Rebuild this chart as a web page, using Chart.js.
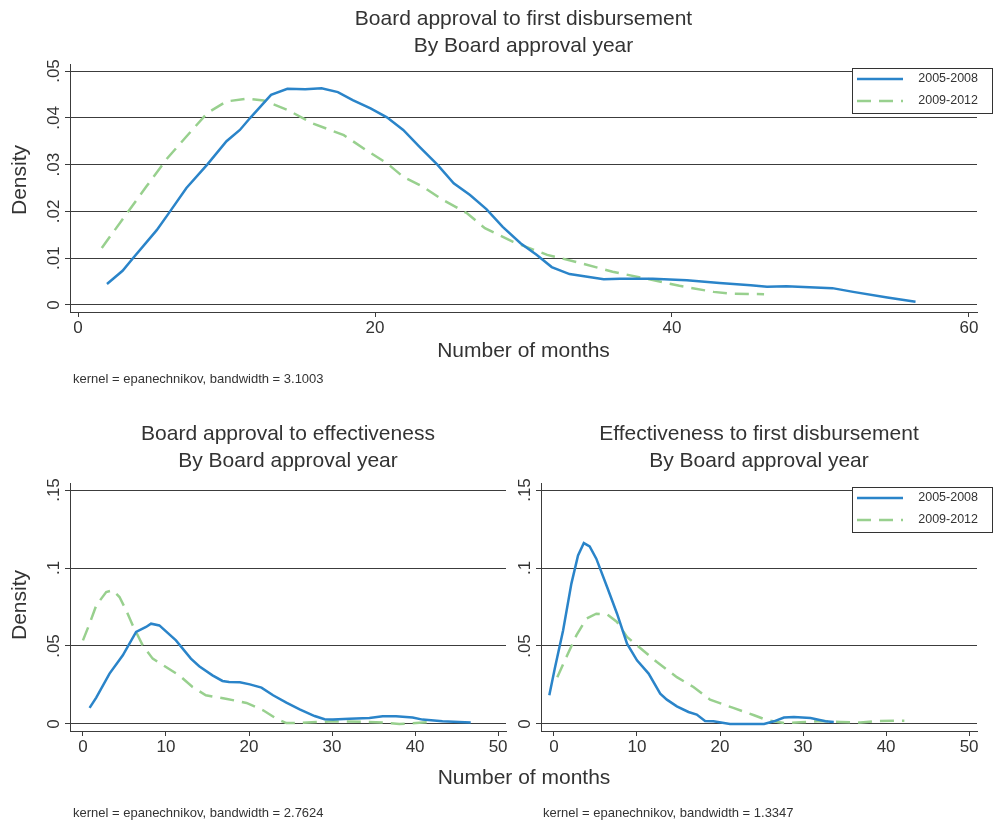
<!DOCTYPE html>
<html>
<head>
<meta charset="utf-8">
<script src="https://cdn.jsdelivr.net/npm/chart.js@4.4.1/dist/chart.umd.min.js"></script>
<style>
  body { margin: 0; background: #fff; width: 993px; height: 825px; position: relative; overflow: hidden; }
  canvas { position: absolute; }
  .xtitle { position: absolute; left: 324px; width: 400px; top: 766px; text-align: center;
            font: 21px/21px "Liberation Sans", Arial, sans-serif; color: #333; white-space: nowrap; }
</style>
</head>
<body>
<canvas id="topChart" width="993" height="395" style="left:0;top:0"></canvas>
<canvas id="leftChart" width="520" height="430" style="left:0;top:395px"></canvas>
<canvas id="rightChart" width="488" height="430" style="left:505px;top:395px"></canvas>
<div class="xtitle">Number of months</div>
<script>
// Series labels
const seriesLabels = ['2005-2008', '2009-2012'];

// Top panel: Board approval to first disbursement
const topX0508 = [1.95, 3.0, 3.7, 5.3, 6.2, 7.3, 8.7, 10.0, 10.9, 11.6, 13.0, 14.1, 15.3, 16.4, 17.5, 18.5, 19.7, 20.8, 21.9, 23.0, 24.2, 25.3, 26.4, 27.5, 28.6, 29.8, 30.9, 31.9, 33.1, 35.4, 36.5, 38.7, 41.0, 43.2, 45.3, 46.4, 47.7, 50.8, 52.2, 54.5, 56.4];
const topY0508 = [0.0045, 0.0073, 0.0100, 0.0160, 0.0200, 0.0250, 0.0300, 0.0350, 0.0374, 0.0400, 0.0449, 0.0462, 0.0461, 0.0463, 0.0455, 0.0438, 0.0420, 0.0401, 0.0374, 0.0338, 0.0300, 0.0260, 0.0235, 0.0205, 0.0167, 0.0132, 0.0107, 0.0081, 0.0066, 0.0055, 0.0056, 0.0056, 0.0053, 0.0047, 0.0042, 0.0039, 0.0040, 0.0036, 0.0028, 0.0016, 0.0007];
const topX0912 = [1.6, 3.3, 4.6, 6.0, 7.3, 8.7, 10.0, 11.4, 12.5, 14.1, 15.8, 17.9, 19.4, 20.8, 21.9, 23.2, 24.6, 26.2, 27.4, 29.3, 31.6, 33.8, 36.0, 38.3, 40.5, 42.8, 44.1, 46.2];
const topY0912 = [0.0122, 0.0196, 0.0253, 0.0313, 0.0360, 0.0410, 0.0435, 0.0441, 0.0437, 0.0417, 0.0388, 0.0363, 0.0331, 0.0303, 0.0274, 0.0253, 0.0224, 0.0196, 0.0164, 0.0135, 0.0107, 0.0090, 0.0071, 0.0056, 0.0041, 0.0028, 0.0024, 0.0023];

// Bottom left: Board approval to effectiveness
const leftX0508 = [0.8, 1.6, 3.2, 4.8, 6.4, 7.6, 8.2, 9.2, 11.2, 13.0, 14.0, 15.6, 16.8, 17.6, 18.9, 20.1, 21.5, 22.9, 24.5, 26.1, 27.9, 29.1, 30.1, 32.1, 34.5, 36.1, 37.7, 39.7, 40.9, 43.3, 45.3, 46.7];
const leftY0508 = [0.0103, 0.0169, 0.0323, 0.0440, 0.0590, 0.0622, 0.0643, 0.0632, 0.0536, 0.0419, 0.0370, 0.0312, 0.0276, 0.0269, 0.0267, 0.0254, 0.0233, 0.0184, 0.0137, 0.0094, 0.0051, 0.0030, 0.0028, 0.0034, 0.0038, 0.0049, 0.0049, 0.0041, 0.0028, 0.0017, 0.0013, 0.0009];
const leftX0912 = [0.0, 0.8, 1.6, 2.8, 3.6, 4.4, 5.2, 6.0, 7.2, 8.4, 10.0, 11.6, 13.2, 14.8, 17.2, 19.7, 21.7, 23.3, 24.5, 26.1, 28.1, 30.1, 34.1, 36.1, 38.1, 40.1, 42.1];
const leftY0912 = [0.0536, 0.0643, 0.0760, 0.0846, 0.0857, 0.0814, 0.0729, 0.0632, 0.0504, 0.0419, 0.0365, 0.0312, 0.0237, 0.0184, 0.0162, 0.0135, 0.0088, 0.0034, 0.0006, 0.0006, 0.0013, 0.0017, 0.0013, 0.0009, 0.0000, 0.0006, 0.0013];

// Bottom right: Effectiveness to first disbursement
const rightX0508 = [-0.56, 0.1, 1.1, 2.1, 2.9, 3.6, 4.3, 5.1, 6.4, 7.6, 8.8, 10.0, 11.4, 12.8, 13.6, 14.8, 16.2, 17.2, 18.2, 19.2, 21.2, 25.3, 26.5, 27.7, 28.9, 30.9, 32.7, 33.7];
const rightY0508 = [0.0184, 0.0355, 0.0600, 0.0900, 0.1080, 0.1160, 0.1139, 0.1060, 0.0878, 0.0707, 0.0515, 0.0408, 0.0323, 0.0194, 0.0156, 0.0113, 0.0077, 0.0060, 0.0019, 0.0017, 0.0000, 0.0000, 0.0017, 0.0041, 0.0045, 0.0038, 0.0017, 0.0013];
const rightX0912 = [0.4, 1.5, 2.7, 3.9, 5.1, 6.4, 7.6, 8.8, 10.0, 12.4, 14.8, 16.8, 18.8, 21.6, 24.1, 25.7, 27.7, 29.7, 32.1, 34.5, 36.9, 38.9, 42.2];
const rightY0912 = [0.0300, 0.0430, 0.0568, 0.0675, 0.0707, 0.0703, 0.0654, 0.0558, 0.0504, 0.0397, 0.0300, 0.0237, 0.0156, 0.0103, 0.0056, 0.0024, 0.0006, 0.0011, 0.0019, 0.0013, 0.0009, 0.0019, 0.0021];

// Ticks
const topXTicks = [0, 20, 40, 60];
const topYTicks = [0, 0.01, 0.02, 0.03, 0.04, 0.05];
const topYTickLabels = ['0', '.01', '.02', '.03', '.04', '.05'];
const bottomXTicks = [0, 10, 20, 30, 40, 50];
const bottomYTicks = [0, 0.05, 0.1, 0.15];
const bottomYTickLabels = ['0', '.05', '.1', '.15'];

const BLUE = '#2a84c9';
const GREEN = '#98d08e';
const TEXT = '#333';
const GRID = '#3c3c3c';
const FONT = '"Liberation Sans", Arial, sans-serif';

function toPoints(xs, ys) {
  return xs.map((x, i) => ({ x: x, y: ys[i] }));
}

// Draws titles, rotated y tick labels, y title, notes and legend box
const panelText = {
  id: 'panelText',
  afterDraw(chart, args, opts) {
    const ctx = chart.ctx;
    const area = chart.chartArea;
    const ys = chart.scales.y;
    const cx = (area.left + area.right) / 2;
    ctx.save();
    ctx.fillStyle = TEXT;

    ctx.font = '21px ' + FONT;
    ctx.textAlign = 'center';
    ctx.textBaseline = 'alphabetic';
    opts.title.forEach((line, i) => ctx.fillText(line, cx, opts.titleY + i * 27));

    if (opts.xTitle) ctx.fillText(opts.xTitle, cx, opts.xTitleY);

    if (opts.yTitle) {
      ctx.save();
      ctx.translate(20, opts.yTitleY);
      ctx.rotate(-Math.PI / 2);
      ctx.textBaseline = 'middle';
      ctx.fillText(opts.yTitle, 0, 0);
      ctx.restore();
    }

    ctx.font = '17px ' + FONT;
    opts.yTicks.forEach((v, i) => {
      ctx.save();
      ctx.translate(area.left - 11, ys.getPixelForValue(v));
      ctx.rotate(-Math.PI / 2);
      ctx.fillText(opts.yTickLabels[i], 0, 0);
      ctx.restore();
    });

    ctx.font = '13px ' + FONT;
    ctx.textAlign = 'left';
    ctx.fillText(opts.note, opts.noteX, opts.noteY);

    if (opts.legend) {
      const bx = area.right - 125, by = area.top + 4, bw = 140, bh = 45;
      ctx.fillStyle = '#fff';
      ctx.fillRect(bx, by, bw, bh);
      ctx.strokeStyle = '#333';
      ctx.lineWidth = 1;
      ctx.strokeRect(bx + 0.5, by + 0.5, bw, bh);
      ctx.font = '12.5px ' + FONT;
      ctx.textAlign = 'right';
      ctx.textBaseline = 'middle';
      chart.data.datasets.forEach((ds, i) => {
        const ly = by + 11 + i * 22;
        ctx.strokeStyle = ds.borderColor;
        ctx.lineWidth = ds.borderWidth;
        ctx.setLineDash(ds.borderDash || []);
        ctx.beginPath();
        ctx.moveTo(bx + 5, ly);
        ctx.lineTo(bx + 51, ly);
        ctx.stroke();
        ctx.setLineDash([]);
        ctx.fillStyle = '#333';
        ctx.fillText(ds.label, bx + 126, ly);
      });
    }
    ctx.restore();
  }
};

function makePanel(id, cfg) {
  const canvas = document.getElementById(id);
  return new Chart(canvas.getContext('2d'), {
    type: 'line',
    data: {
      datasets: [
        { label: seriesLabels[0], data: toPoints(cfg.x1, cfg.y1), borderColor: BLUE, borderWidth: 2.5, pointRadius: 0, tension: 0, fill: false },
        { label: seriesLabels[1], data: toPoints(cfg.x2, cfg.y2), borderColor: GREEN, borderWidth: 2.5, borderDash: [14, 8], pointRadius: 0, tension: 0, fill: false }
      ]
    },
    options: {
      responsive: false,
      animation: false,
      layout: { padding: { left: 0, right: cfg.padRight, top: cfg.padTop, bottom: 0 } },
      plugins: {
        legend: { display: false },
        title: { display: false },
        tooltip: { enabled: false },
        panelText: cfg.text
      },
      scales: {
        x: {
          type: 'linear',
          min: cfg.xMin, max: cfg.xMax,
          afterBuildTicks: s => { s.ticks = cfg.xTicks.map(v => ({ value: v })); },
          afterFit: s => { s.height = cfg.xHeight; },
          ticks: { color: TEXT, font: { family: FONT, size: 17 }, padding: 1, maxRotation: 0, callback: v => String(v) },
          grid: { display: true, drawOnChartArea: false, drawTicks: true, tickLength: 5, color: GRID },
          border: { display: true, color: GRID, width: 1 }
        },
        y: {
          type: 'linear',
          min: cfg.yMin, max: cfg.yMax,
          afterBuildTicks: s => { s.ticks = cfg.text.yTicks.map(v => ({ value: v })); },
          afterFit: s => { s.width = cfg.yWidth; },
          ticks: { display: false },
          grid: { display: true, drawTicks: true, tickLength: 5, color: GRID, lineWidth: 1 },
          border: { display: true, color: GRID, width: 1 }
        }
      }
    },
    plugins: [panelText]
  });
}

makePanel('topChart', {
  x1: topX0508, y1: topY0508, x2: topX0912, y2: topY0912,
  xMin: -0.54, xMax: 60.54, yMin: -0.0015, yMax: 0.0515,
  xTicks: topXTicks, padRight: 16, padTop: 64, yWidth: 70, xHeight: 83,
  text: {
    title: ['Board approval to first disbursement', 'By Board approval year'], titleY: 25,
    xTitle: 'Number of months', xTitleY: 357,
    yTitle: 'Density', yTitleY: 180,
    yTicks: topYTicks, yTickLabels: topYTickLabels,
    note: 'kernel = epanechnikov, bandwidth = 3.1003', noteX: 73, noteY: 383,
    legend: true
  }
});

makePanel('leftChart', {
  x1: leftX0508, y1: leftY0508, x2: leftX0912, y2: leftY0912,
  xMin: -1.56, xMax: 50.95, yMin: -0.0045, yMax: 0.1545,
  xTicks: bottomXTicks, padRight: 14, padTop: 88, yWidth: 70, xHeight: 94,
  text: {
    title: ['Board approval to effectiveness', 'By Board approval year'], titleY: 45,
    yTitle: 'Density', yTitleY: 210,
    yTicks: bottomYTicks, yTickLabels: bottomYTickLabels,
    note: 'kernel = epanechnikov, bandwidth = 2.7624', noteX: 73, noteY: 422,
    legend: false
  }
});

makePanel('rightChart', {
  x1: rightX0508, y1: rightY0508, x2: rightX0912, y2: rightY0912,
  xMin: -1.56, xMax: 50.95, yMin: -0.0045, yMax: 0.1545,
  xTicks: bottomXTicks, padRight: 16, padTop: 88, yWidth: 36, xHeight: 94,
  text: {
    title: ['Effectiveness to first disbursement', 'By Board approval year'], titleY: 45,
    yTicks: bottomYTicks, yTickLabels: bottomYTickLabels,
    note: 'kernel = epanechnikov, bandwidth = 1.3347', noteX: 38, noteY: 422,
    legend: true
  }
});
</script>
</body>
</html>
